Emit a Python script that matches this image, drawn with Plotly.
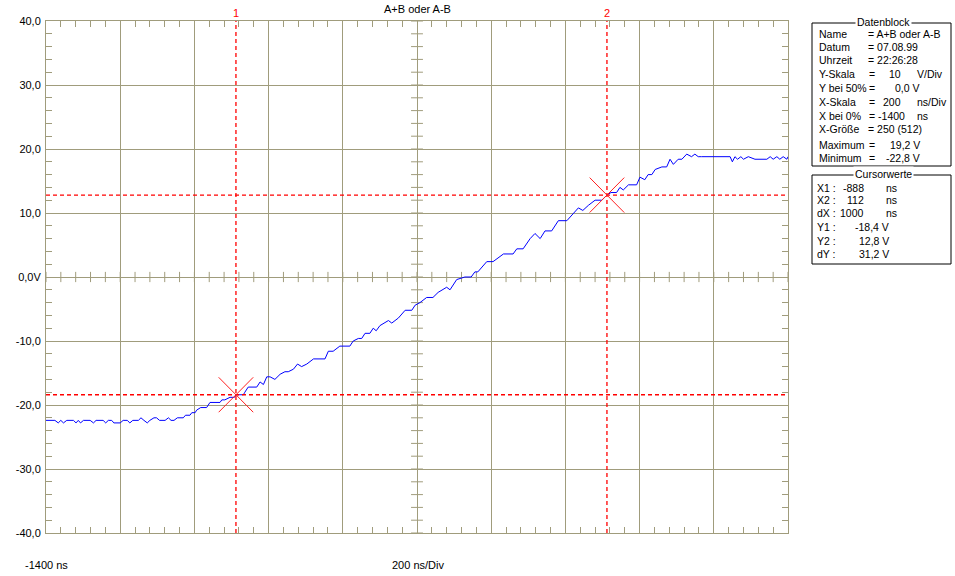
import plotly.graph_objects as go

# ---------------- data ----------------
t_ns = [
    -1400, -1376, -1367, -1360, -1353, -1344, -1326, -1319, -1313, -1307,
    -1299, -1281, -1272, -1265, -1246, -1239, -1232, -1223, -1217, -1200,
    -1192, -1181, -1174, -1166, -1151, -1144, -1136, -1127, -1120, -1109,
    -1102, -1094, -1079, -1070, -1063, -1055, -1046, -1030, -1024, -1012,
    -1007, -998, -994, -983, -967, -958, -931, -926, -918, -904,
    -892, -888, -877, -868, -864, -855, -832, -823, -814, -805,
    -796, -783, -769, -756, -747, -733, -722, -711, -697, -688,
    -679, -648, -639, -626, -608, -581, -572, -558, -549, -540,
    -527, -518, -510, -500, -477, -468, -450, -432, -414, -405,
    -392, -374, -357, -343, -320, -311, -293, -271, -254, -244,
    -236, -212, -195, -167, -141, -131, -114, -95, -82, -68,
    -55, -37, -19, 4, 17, 35, 47, 62, 80, 98,
    112, 123, 138, 147, 156, 170, 192, 201, 214, 223,
    233, 242, 260, 273, 282, 291, 304, 314, 327, 340,
    349, 358, 367, 376, 444, 450, 457, 464, 473, 480,
    493, 511, 543, 552, 560, 570, 578, 587, 597, 600,
]
volts = [
    -22.4, -22.4, -22.8, -22.4, -22.8, -22.4, -22.4, -22.8, -22.4, -22.8,
    -22.4, -22.4, -22.8, -22.4, -22.4, -22.8, -22.4, -22.4, -22.8, -22.8,
    -22.4, -22.4, -22.8, -22.4, -22.4, -22.0, -22.4, -22.8, -22.4, -22.0,
    -22.0, -22.4, -22.4, -22.0, -22.4, -22.4, -22.0, -22.0, -21.6, -21.6,
    -21.2, -21.2, -20.8, -20.4, -20.4, -19.6, -19.6, -19.2, -19.2, -18.8,
    -18.8, -18.4, -18.4, -18.4, -18.0, -17.2, -17.2, -16.4, -16.8, -15.6,
    -15.6, -16.0, -15.2, -14.8, -14.8, -14.4, -13.6, -14.0, -13.6, -13.2,
    -12.8, -12.8, -11.6, -11.6, -10.8, -10.8, -10.0, -9.6, -9.6, -8.8,
    -8.8, -8.0, -8.4, -7.6, -6.8, -7.2, -6.4, -5.2, -5.2, -4.4,
    -4.0, -3.2, -3.2, -2.4, -1.6, -2.0, -0.4, 0.0, 0.0, 0.8,
    0.8, 2.4, 2.4, 3.6, 3.6, 4.4, 4.4, 6.0, 6.8, 6.0,
    7.2, 7.2, 8.8, 8.8, 9.6, 10.8, 10.4, 11.2, 12.0, 12.0,
    12.8, 13.2, 13.2, 14.0, 13.6, 14.4, 14.4, 15.6, 15.2, 16.0,
    16.0, 16.8, 17.2, 17.2, 18.4, 17.6, 18.4, 18.4, 19.2, 18.8,
    19.2, 18.8, 18.8, 18.8, 18.8, 18.0, 18.8, 18.4, 18.8, 18.4,
    18.8, 18.4, 18.4, 18.8, 18.4, 18.8, 18.4, 18.8, 18.4, 18.8,
]

cursor_names = ["1", "2"]
cursor_t = [-888, 112]
cursor_v = [-18.4, 12.8]

y_tickvals = [40, 30, 20, 10, 0, -10, -20, -30, -40]
y_ticktext = ["40,0", "30,0", "20,0", "10,0", "0,0V", "-10,0", "-20,0", "-30,0", "-40,0"]

title_text = "A+B oder A-B"
x_start_label = "-1400 ns"
x_scale_label = "200 ns/Div"

daten_labels = ["Name", "Datum", "Uhrzeit", "Y-Skala", "Y bei 50%", "X-Skala",
                "X bei 0%", "X-Größe", "Maximum", "Minimum"]
daten_values = ["A+B oder A-B", "07.08.99", "22:26:28", "10", "0,0 V", "200",
                "-1400", "250 (512)", "19,2 V", "-22,8 V"]
daten_units = ["", "", "", "V/Div", "", "ns/Div", "ns", "", "", ""]

cursor_labels = ["X1 :", "X2 :", "dX :", "Y1 :", "Y2 :", "dY :"]
cursor_values = ["-888", "112", "1000", "-18,4 V", "12,8 V", "31,2 V"]
cursor_units = ["ns", "ns", "ns", "", "", ""]

# ---------------- styling ----------------
W, H = 955, 576
L, R, T, B = 46, 788, 21, 533
GRID = "#A09C7C"
FONT = "Liberation Sans"
FS = 11
PFS = 10.5


def PX(x):
    return (x - L) / (R - L)


def PY(y):
    return (B - y) / (B - T)


fig = go.Figure()

fig.add_trace(go.Scatter(x=t_ns, y=volts, mode="lines",
                         line=dict(color="#0000FF", width=1),
                         hoverinfo="skip", showlegend=False))

# cursor top markers
fig.add_trace(go.Scatter(x=cursor_t, y=[40.45] * len(cursor_t), mode="markers",
                         marker=dict(symbol="triangle-down", size=6, color="#FF0000"),
                         cliponaxis=False, hoverinfo="skip", showlegend=False))

shapes = []
# center cross ticks
xmin, xmax = -1400, 600
t = xmin
while t <= xmax:
    shapes.append(dict(type="line", xref="x", yref="y", x0=t, x1=t, y0=-0.8, y1=0.8,
                       line=dict(color=GRID, width=1), layer="below"))
    t += 40
v = -40
while v <= 40:
    shapes.append(dict(type="line", xref="x", yref="y", x0=-416, x1=-384, y0=v, y1=v,
                       line=dict(color=GRID, width=1), layer="below"))
    v += 2

# cursors
for ct, cv in zip(cursor_t, cursor_v):
    shapes.append(dict(type="line", xref="x", yref="y", x0=ct, x1=ct, y0=-40, y1=40,
                       line=dict(color="#FF0000", width=1.3, dash="4px,3px")))
    shapes.append(dict(type="line", xref="x", yref="y", x0=xmin, x1=xmax, y0=cv, y1=cv,
                       line=dict(color="#FF0000", width=1.3, dash="4px,3px")))
    dx, dv = 46.6, 2.73
    shapes.append(dict(type="line", xref="x", yref="y", x0=ct - dx, x1=ct + dx,
                       y0=cv - dv, y1=cv + dv, line=dict(color="#FF2020", width=1)))
    shapes.append(dict(type="line", xref="x", yref="y", x0=ct - dx, x1=ct + dx,
                       y0=cv + dv, y1=cv - dv, line=dict(color="#FF2020", width=1)))

# right-side boxes
shapes.append(dict(type="rect", xref="paper", yref="paper", x0=PX(812), x1=PX(951),
                   y0=PY(166), y1=PY(23), line=dict(color="black", width=1)))
shapes.append(dict(type="rect", xref="paper", yref="paper", x0=PX(812), x1=PX(951),
                   y0=PY(264), y1=PY(175), line=dict(color="black", width=1)))

ann = []


def text(s, x, y, anchor="left", color="black", bg=None, size=FS):
    d = dict(text=s, xref="paper", yref="paper", x=PX(x), y=PY(y), xanchor=anchor,
             yanchor="middle", showarrow=False,
             font=dict(family=FONT, size=size, color=color))
    if bg:
        d["bgcolor"] = bg
        d["borderpad"] = 1
    ann.append(d)


text(title_text, 417, 9, "center")
text(x_start_label, 46, 565, "center")
text(x_scale_label, 418, 565, "center")

for name, ct in zip(cursor_names, cursor_t):
    ann.append(dict(text=name, xref="x", yref="paper", x=ct, y=PY(13), xanchor="center",
                    yanchor="middle", showarrow=False,
                    font=dict(family=FONT, size=FS, color="#FF0000")))

# Datenblock
text("Datenblock", 883, 22, "center", bg="white", size=PFS)
rows_y = [34, 47, 60, 74, 88, 102, 116, 129, 145, 158]
for i, (lab, val, unit) in enumerate(zip(daten_labels, daten_values, daten_units)):
    y = rows_y[i]
    text(lab, 817, y, size=PFS)
    if i in (0, 1, 2, 7):
        text("= " + val, 866, y, size=PFS)
    elif i == 6:
        text("= " + val, 867, y, size=PFS)
        text(unit, 915, y, size=PFS)
    else:
        text("=", 867, y, size=PFS)
        if unit:
            text(val, 903, y, "right", size=PFS)
            text(unit, 915, y, size=PFS)
        else:
            text(val, 922, y, "right", size=PFS)

# Cursorwerte
text("Cursorwerte", 883, 174, "center", bg="white", size=PFS)
crow_y = [188, 200, 213, 227, 241, 254]
for i, (lab, val, unit) in enumerate(zip(cursor_labels, cursor_values, cursor_units)):
    y = crow_y[i]
    text(lab, 815, y, size=PFS)
    if unit:
        text(val, 866, y, "right", size=PFS)
        text(unit, 884, y, size=PFS)
    else:
        text(val, 891, y, "right", size=PFS)

axis_common = dict(showline=True, linecolor=GRID, linewidth=1, mirror="ticks",
                   ticks="inside", ticklen=6, tickcolor=GRID, tickwidth=1,
                   showgrid=True, gridcolor=GRID, gridwidth=1, zeroline=False)

fig.update_layout(
    width=W, height=H,
    margin=dict(l=L, r=W - R, t=T, b=H - B, pad=0),
    paper_bgcolor="white", plot_bgcolor="white",
    showlegend=False,
    xaxis=dict(range=[xmin, xmax], tickmode="linear", tick0=-1400, dtick=200,
               showticklabels=False,
               minor=dict(tickmode="linear", tick0=-1400, dtick=40, ticks="inside",
                          ticklen=6, tickcolor=GRID, showgrid=False),
               **axis_common),
    yaxis=dict(range=[-40, 40], tickmode="array", tickvals=y_tickvals, ticktext=y_ticktext,
               tickfont=dict(family=FONT, size=FS, color="black"),
               ticklabelstandoff=2,
               minor=dict(tickmode="linear", tick0=-40, dtick=2, ticks="inside",
                          ticklen=6, tickcolor=GRID, showgrid=False),
               **axis_common),
    shapes=shapes,
    annotations=ann,
)

fig.write_html("out.html", config={"displayModeBar": False})

# remove the browser's default page margin so the figure sits at the window origin
with open("out.html", "r", encoding="utf-8") as f:
    html = f.read()
html = html.replace("<head>", "<head><style>html,body{margin:0;padding:0;overflow:hidden;}</style>", 1)
with open("out.html", "w", encoding="utf-8") as f:
    f.write(html)
